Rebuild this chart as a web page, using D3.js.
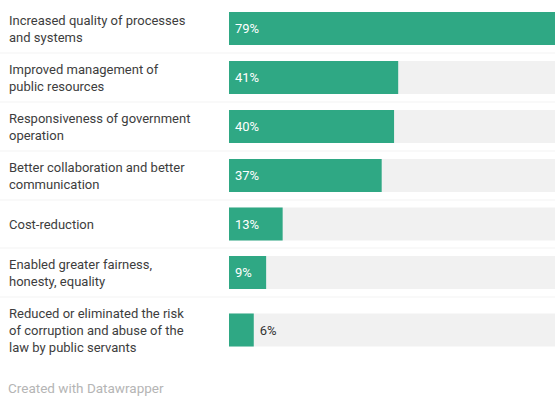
<!DOCTYPE html>
<html>
<head>
<meta charset="utf-8">
<script src="https://cdn.jsdelivr.net/npm/d3@7"></script>
<style>
  body { margin: 0; background: #fff; }
  svg { display: block; font-family: Roboto, sans-serif; }
</style>
</head>
<body>
<div id="chart"></div>
<script>
// labels (already broken into lines as in the picture) and values in percent
const labels = [
  ["Increased quality of processes", "and systems"],
  ["Improved management of", "public resources"],
  ["Responsiveness of government", "operation"],
  ["Better collaboration and better", "communication"],
  ["Cost-reduction"],
  ["Enabled greater fairness,", "honesty, equality"],
  ["Reduced or eliminated the risk", "of corruption and abuse of the", "law by public servants"]
];
const values = [79, 41, 40, 37, 13, 9, 6];
const footer = "Created with Datawrapper";

const width = 555, height = 396;
const barH = 33, lineH = 17, gap = 15;
const barX0 = 229, barX1 = 555;

const svg = d3.select("#chart").append("svg")
  .attr("width", width)
  .attr("height", height);

const x = d3.scaleLinear()
  .domain([0, d3.max(values)])
  .range([barX0, barX1]);

// row layout: each row as tall as its label or bar, plus some padding
let rowTop = 4;
const rows = labels.map((lines, i) => {
  const h = Math.max(barH, lines.length * lineH) + gap;
  const r = { lines: lines, value: values[i], top: rowTop, h: h, cy: rowTop + h / 2 };
  rowTop += h;
  return r;
});

// faint separators between rows
svg.selectAll("line.sep")
  .data(rows.slice(1))
  .enter().append("line")
  .attr("class", "sep")
  .attr("x1", 0).attr("x2", width)
  .attr("y1", d => d.top).attr("y2", d => d.top)
  .attr("stroke", "#f3f3f3")
  .attr("stroke-width", 1);

const row = svg.selectAll("g.row")
  .data(rows)
  .enter().append("g")
  .attr("class", "row");

// background track
row.append("rect")
  .attr("x", x(0))
  .attr("y", d => d.cy - barH / 2)
  .attr("width", x.range()[1] - x(0))
  .attr("height", barH)
  .attr("fill", "#f1f1f1");

row.append("rect")
  .attr("x", x(0))
  .attr("y", d => d.cy - barH / 2)
  .attr("width", d => x(d.value) - x(0))
  .attr("height", barH)
  .attr("fill", "#2fa884");

// category labels
row.append("text")
  .attr("x", 9)
  .attr("font-size", 13)
  .attr("fill", "#3d3d3d")
  .each(function (d) {
    const t = d3.select(this);
    const y0 = d.cy - d.lines.length * lineH / 2 + 13;
    d.lines.forEach((l, j) => {
      t.append("tspan").attr("x", 9).attr("y", y0 + j * lineH).text(l);
    });
  });

// value labels, inside if the bar is wide enough
row.append("text")
  .attr("x", d => (x(d.value) - x(0) > 30) ? x(0) + 6 : x(d.value) + 6)
  .attr("y", d => d.cy + 4.5)
  .attr("font-size", 13)
  .attr("fill", d => (x(d.value) - x(0) > 30) ? "#fff" : "#333")
  .text(d => d.value + "%");

svg.append("text")
  .attr("x", 8)
  .attr("y", 393)
  .attr("font-size", 13.5)
  .attr("fill", "#b5b5b5")
  .text(footer);
</script>
</body>
</html>
